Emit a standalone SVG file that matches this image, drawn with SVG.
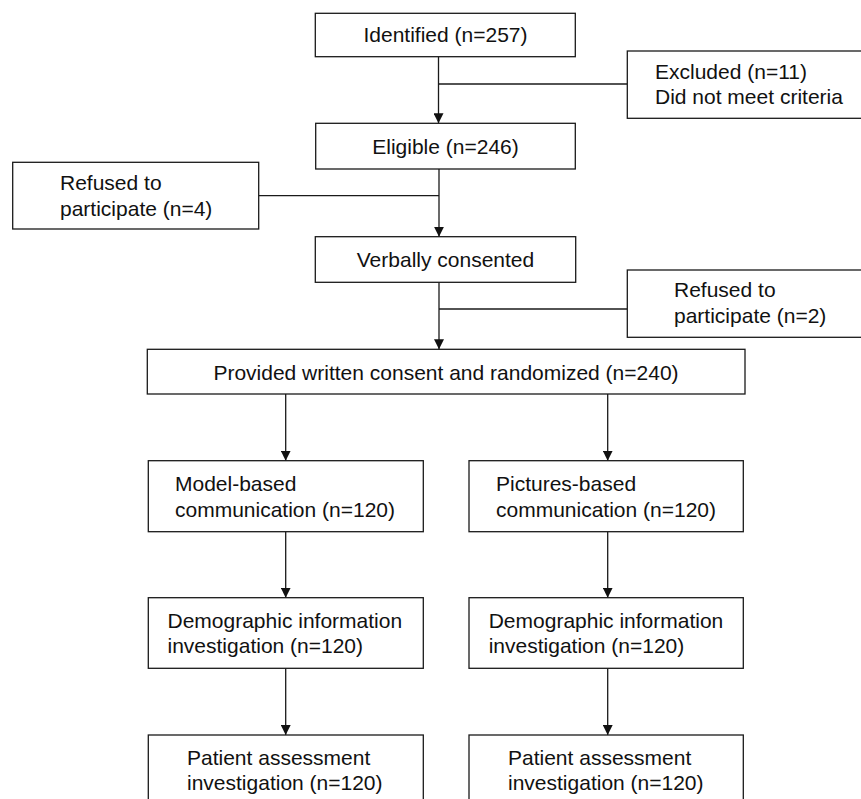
<svg xmlns="http://www.w3.org/2000/svg" width="861" height="799" viewBox="0 0 861 799">
<style>
.box{fill:#fff;stroke:#1a1a1a;stroke-width:1.3}
.t{font-family:"Liberation Sans",Arial,sans-serif;font-size:21px;fill:#111}
.c{text-anchor:middle}
.ln{fill:none;stroke:#1a1a1a;stroke-width:1.3}
</style>
<defs>
<marker id="ah" markerUnits="userSpaceOnUse" markerWidth="10" markerHeight="10" refX="10" refY="5" orient="auto">
<path d="M0,0 L10,5 L0,10 z" fill="#111"/>
</marker>
</defs>
<rect width="861" height="799" fill="#fff"/>
<g id="connectors">
<line class="ln" x1="438.5" y1="56.7" x2="438.5" y2="123.3" marker-end="url(#ah)"/>
<line class="ln" x1="438.5" y1="84" x2="627.3" y2="84"/>
<line class="ln" x1="439" y1="169" x2="439" y2="236.7" marker-end="url(#ah)"/>
<line class="ln" x1="258.7" y1="195.7" x2="439" y2="195.7"/>
<line class="ln" x1="439" y1="282.3" x2="439" y2="349.3" marker-end="url(#ah)"/>
<line class="ln" x1="439" y1="309" x2="627.3" y2="309"/>
<line class="ln" x1="285.7" y1="394" x2="285.7" y2="460.7" marker-end="url(#ah)"/>
<line class="ln" x1="607.7" y1="394" x2="607.7" y2="460.7" marker-end="url(#ah)"/>
<line class="ln" x1="285.7" y1="531.7" x2="285.7" y2="597.7" marker-end="url(#ah)"/>
<line class="ln" x1="607.7" y1="531.7" x2="607.7" y2="597.7" marker-end="url(#ah)"/>
<line class="ln" x1="285.7" y1="668.3" x2="285.7" y2="735" marker-end="url(#ah)"/>
<line class="ln" x1="607.7" y1="668.3" x2="607.7" y2="735" marker-end="url(#ah)"/>
</g>
<g id="identified">
<rect class="box" x="315.3" y="13.3" width="260" height="43.4"/>
<text class="t c" x="445.5" y="42">Identified (n=257)</text>
</g>
<g id="excluded">
<rect class="box" x="627.3" y="51" width="245" height="67.3"/>
<text class="t" x="655" y="78.5">Excluded (n=11)</text>
<text class="t" x="655" y="104">Did not meet criteria</text>
</g>
<g id="eligible">
<rect class="box" x="315.7" y="123.3" width="259.6" height="45.7"/>
<text class="t c" x="445.5" y="153.5">Eligible (n=246)</text>
</g>
<g id="refused1">
<rect class="box" x="12.7" y="162.3" width="246" height="66.7"/>
<text class="t" x="60" y="190">Refused to</text>
<text class="t" x="60" y="215.5">participate (n=4)</text>
</g>
<g id="verbally">
<rect class="box" x="315.3" y="236.7" width="260.4" height="45.6"/>
<text class="t c" x="445.5" y="266.5">Verbally consented</text>
</g>
<g id="refused2">
<rect class="box" x="627.3" y="270" width="245" height="67.3"/>
<text class="t" x="674" y="297">Refused to</text>
<text class="t" x="674" y="322.5">participate (n=2)</text>
</g>
<g id="provided">
<rect class="box" x="147.3" y="349.3" width="597.7" height="44.7"/>
<text class="t c" x="446" y="379.5">Provided written consent and randomized (n=240)</text>
</g>
<g id="model">
<rect class="box" x="148.3" y="460.7" width="275" height="71"/>
<text class="t" x="175" y="490.7">Model-based</text>
<text class="t" x="175" y="516.5">communication (n=120)</text>
</g>
<g id="pictures">
<rect class="box" x="469" y="460.7" width="274.3" height="71"/>
<text class="t" x="496" y="490.7">Pictures-based</text>
<text class="t" x="496" y="516.5">communication (n=120)</text>
</g>
<g id="demo-left">
<rect class="box" x="148.3" y="597.7" width="275" height="70.6"/>
<text class="t" x="167.5" y="628.3">Demographic information</text>
<text class="t" x="167.5" y="653.3">investigation (n=120)</text>
</g>
<g id="demo-right">
<rect class="box" x="469" y="597.7" width="274.3" height="70.6"/>
<text class="t" x="488.7" y="628.3">Demographic information</text>
<text class="t" x="488.7" y="653.3">investigation (n=120)</text>
</g>
<g id="patient-left">
<rect class="box" x="148.3" y="735" width="275" height="71"/>
<text class="t" x="187" y="765">Patient assessment</text>
<text class="t" x="187" y="790">investigation (n=120)</text>
</g>
<g id="patient-right">
<rect class="box" x="469" y="735" width="274.3" height="71"/>
<text class="t" x="508" y="765">Patient assessment</text>
<text class="t" x="508" y="790">investigation (n=120)</text>
</g>
</svg>
